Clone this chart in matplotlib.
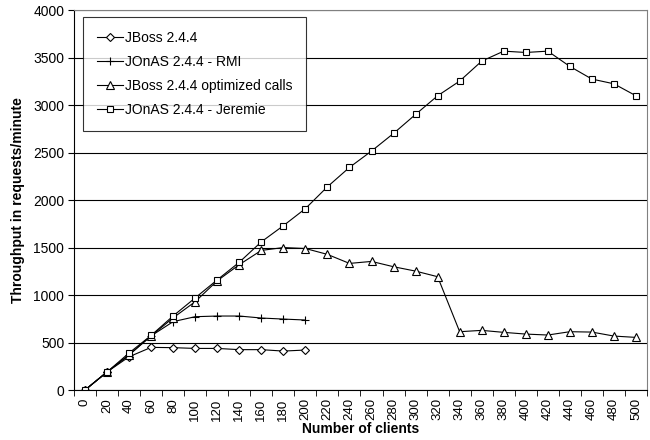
import matplotlib
matplotlib.use("Agg")
import matplotlib.pyplot as plt
import numpy as np

plt.rcParams['font.family'] = ['Liberation Sans', 'DejaVu Sans']

clients = list(range(0, 501, 20))

jboss = [0, 190, 350, 449, 446, 438, 438, 425, 425, 410, 421]
jonas_rmi = [0, 190, 370, 570, 720, 772, 779, 779, 758, 747, 737]
jboss_opt = [0, 190, 370, 570, 760, 930, 1150, 1320, 1470, 1500, 1490,
             1428, 1333, 1354, 1298, 1252, 1193, 614, 628, 607, 589, 579,
             614, 610, 568, 554]
jonas_jeremie = [0, 190, 390, 575, 780, 970, 1160, 1345, 1560, 1730, 1910,
                 2140, 2344, 2516, 2702, 2902, 3098, 3253, 3463, 3568, 3554,
                 3568, 3407, 3274, 3224, 3098]

fig = plt.figure(figsize=(6.5, 4.4), dpi=100)
ax = fig.add_axes([0.1138, 0.1136, 0.8816, 0.8634])

idx = np.arange(len(clients))
style = dict(color='black', lw=0.8, markerfacecolor='white',
             markeredgecolor='black', markeredgewidth=0.8)
ax.plot(idx[:len(jboss)], jboss, marker='D', ms=3.8, label='JBoss 2.4.4', **style)
ax.plot(idx[:len(jonas_rmi)], jonas_rmi, marker='+', ms=6, label='JOnAS 2.4.4 - RMI', **style)
ax.plot(idx, jboss_opt, marker='^', ms=5.5, label='JBoss 2.4.4 optimized calls', **style)
ax.plot(idx, jonas_jeremie, marker='s', ms=5, label='JOnAS 2.4.4 - Jeremie', **style)

ax.set_xlim(-0.5, len(clients) - 0.5)
ax.set_ylim(0, 4000)
ax.set_yticks(range(0, 4001, 500))
ax.yaxis.grid(True, color='black', lw=0.8)
ax.set_axisbelow(True)

ax.set_xticks(idx)
ax.set_xticklabels([str(c) for c in clients], rotation=90, fontsize=9.5)
ax.set_xticks(np.arange(-0.5, len(clients)), minor=True)
ax.tick_params(axis='x', which='major', length=0, pad=6)
ax.tick_params(axis='x', which='minor', length=4, direction='out')
ax.tick_params(axis='y', labelsize=10, length=4, direction='out', pad=3)

for s in ['top', 'right']:
    ax.spines[s].set_color('#808080')
ax.spines['left'].set_color('black')
ax.spines['bottom'].set_color('black')

ax.set_xlabel('Number of clients', fontsize=10, fontweight='bold', labelpad=1)
ax.set_ylabel('Throughput in requests/minute', fontsize=10, fontweight='bold', labelpad=6)

leg = ax.legend(loc='upper left', bbox_to_anchor=(0.0157, 0.982), fontsize=10,
                frameon=True, fancybox=False, handlelength=1.9, handletextpad=0.1,
                labelspacing=0.72, borderpad=1.0, borderaxespad=0)
leg.get_frame().set_edgecolor('black')
leg.get_frame().set_linewidth(0.8)

fig.savefig('out.png', dpi=100)
